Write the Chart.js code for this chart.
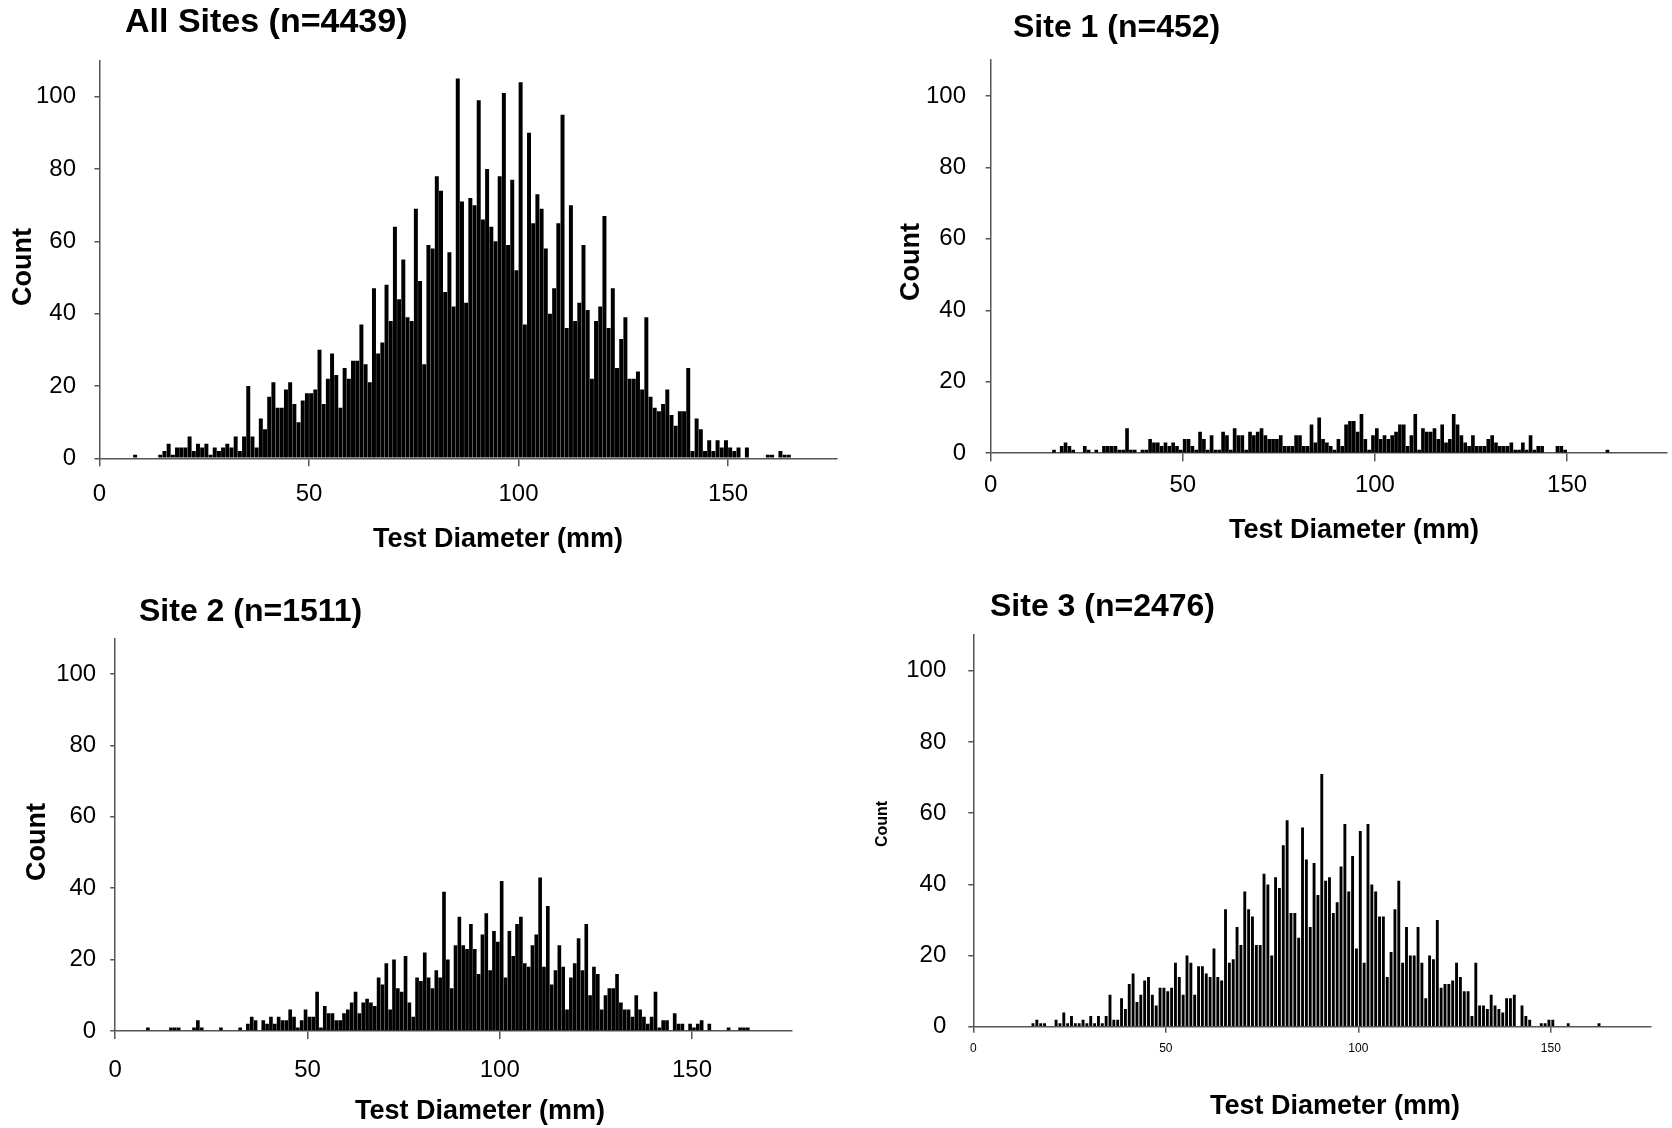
<!DOCTYPE html>
<html>
<head>
<meta charset="utf-8">
<script src="https://cdn.jsdelivr.net/npm/chart.js@4.4.1/dist/chart.umd.min.js"></script>
<style>
  body { margin: 0; background: #fff; }
  #wrap { position: relative; width: 1672px; height: 1128px; }
  canvas { position: absolute; }
</style>
</head>
<body>
<div id="wrap">
  <canvas id="c1" width="850" height="564" style="left:0;top:0"></canvas>
  <canvas id="c2" width="812" height="564" style="left:860px;top:0"></canvas>
  <canvas id="c3" width="836" height="564" style="left:0;top:564px"></canvas>
  <canvas id="c4" width="812" height="564" style="left:860px;top:564px"></canvas>
</div>
<script>
// 1 mm bins, index = lower edge of the bin (0..165)
const binCentres = Array.from({ length: 166 }, (_, i) => i + 0.5);

const allSites = [
  0, 0, 0, 0, 0, 0, 0, 0, 1, 0,
  0, 0, 0, 0, 1, 2, 4, 1, 3, 3,
  3, 6, 2, 4, 3, 4, 1, 3, 2, 3,
  4, 3, 6, 2, 6, 20, 6, 3, 11, 8,
  17, 21, 14, 14, 19, 21, 15, 10, 16, 18,
  18, 19, 30, 15, 22, 29, 23, 14, 25, 22,
  27, 27, 37, 26, 21, 47, 29, 32, 48, 38,
  64, 44, 55, 39, 38, 69, 49, 26, 59, 58,
  78, 74, 46, 57, 42, 105, 71, 43, 72, 70,
  99, 66, 80, 64, 60, 78, 101, 59, 77, 52,
  104, 37, 90, 65, 73, 69, 58, 40, 47, 65,
  95, 36, 70, 38, 43, 59, 41, 22, 38, 42,
  67, 36, 47, 25, 33, 39, 22, 22, 24, 19,
  39, 17, 14, 13, 15, 19, 12, 9, 13, 13,
  25, 2, 11, 8, 2, 5, 2, 5, 3, 5,
  3, 2, 3, 0, 3, 0, 0, 0, 0, 1,
  1, 0, 2, 1, 1, 0
];

const site1 = [
  0, 0, 0, 0, 0, 0, 0, 0, 0, 0,
  0, 0, 0, 0, 0, 0, 1, 0, 2, 3,
  2, 1, 0, 0, 2, 1, 0, 1, 0, 2,
  2, 2, 2, 1, 1, 7, 1, 1, 0, 1,
  1, 4, 3, 3, 2, 3, 2, 3, 2, 1,
  4, 4, 2, 1, 6, 4, 1, 5, 1, 1,
  6, 5, 1, 7, 5, 5, 1, 6, 5, 6,
  7, 5, 4, 4, 4, 5, 2, 2, 2, 5,
  5, 2, 2, 8, 3, 10, 4, 3, 2, 1,
  4, 2, 8, 9, 9, 6, 11, 4, 1, 5,
  7, 4, 5, 4, 5, 6, 8, 8, 2, 5,
  11, 1, 7, 6, 6, 7, 4, 8, 3, 4,
  11, 8, 5, 3, 2, 5, 2, 2, 2, 4,
  5, 3, 2, 2, 2, 3, 1, 1, 3, 1,
  5, 1, 2, 2, 0, 0, 0, 2, 2, 1,
  0, 0, 0, 0, 0, 0, 0, 0, 0, 0,
  1, 0, 0, 0, 0, 0
];

const site2 = [
  0, 0, 0, 0, 0, 0, 0, 0, 1, 0,
  0, 0, 0, 0, 1, 1, 1, 0, 0, 0,
  1, 3, 1, 0, 0, 0, 0, 1, 0, 0,
  0, 0, 1, 0, 2, 4, 3, 0, 3, 2,
  4, 2, 4, 3, 3, 6, 4, 1, 3, 6,
  4, 4, 11, 1, 7, 5, 5, 3, 3, 5,
  6, 8, 11, 5, 8, 9, 8, 7, 15, 13,
  19, 6, 20, 12, 11, 21, 8, 4, 15, 14,
  22, 15, 12, 17, 15, 39, 20, 12, 24, 32,
  24, 23, 30, 23, 16, 27, 33, 17, 28, 25,
  42, 15, 28, 21, 30, 32, 19, 18, 24, 27,
  43, 18, 35, 13, 17, 24, 18, 6, 15, 19,
  26, 17, 30, 10, 18, 16, 6, 10, 12, 12,
  16, 8, 6, 6, 4, 10, 6, 4, 2, 4,
  11, 1, 3, 3, 0, 5, 2, 2, 0, 2,
  1, 2, 3, 0, 2, 0, 0, 0, 0, 1,
  0, 0, 1, 1, 1, 0
];

const site3 = [
  0, 0, 0, 0, 0, 0, 0, 0, 0, 0,
  0, 0, 0, 0, 0, 1, 2, 1, 1, 0,
  0, 2, 1, 4, 1, 3, 1, 1, 2, 1,
  3, 1, 3, 1, 3, 9, 2, 2, 8, 5,
  12, 15, 7, 9, 13, 14, 9, 6, 11, 11,
  10, 11, 18, 14, 9, 20, 18, 9, 17, 17,
  15, 14, 22, 14, 13, 33, 18, 19, 28, 23,
  38, 33, 31, 23, 23, 43, 40, 20, 42, 39,
  51, 58, 32, 32, 25, 56, 47, 28, 46, 37,
  71, 41, 42, 32, 35, 45, 57, 38, 48, 22,
  55, 18, 57, 40, 38, 31, 31, 14, 21, 33,
  41, 18, 28, 20, 20, 28, 18, 8, 20, 19,
  30, 11, 12, 12, 13, 18, 14, 10, 10, 3,
  18, 6, 6, 5, 9, 6, 5, 4, 8, 8,
  9, 0, 6, 3, 2, 0, 0, 1, 1, 2,
  2, 0, 0, 0, 1, 0, 0, 0, 0, 0,
  0, 0, 1, 0, 0, 0
];

const xTickValues = [0, 50, 100, 150];
const yTickValues = [0, 20, 40, 60, 80, 100];

const FONT = '"Liberation Sans", Arial, Helvetica, sans-serif';

// titles are drawn by hand so they can sit where the original put them
const panelText = {
  id: 'panelText',
  afterDraw(chart, args, opts) {
    const ctx = chart.ctx;
    ctx.save();
    ctx.fillStyle = '#000';
    ctx.textBaseline = 'middle';

    ctx.textAlign = 'left';
    ctx.font = 'bold ' + opts.titleSize + 'px ' + FONT;
    ctx.fillText(opts.title, opts.titleX, opts.titleY);

    ctx.textAlign = 'center';
    ctx.font = 'bold 27px ' + FONT;
    ctx.fillText('Test Diameter (mm)', opts.xTitleX, opts.xTitleY);

    ctx.translate(opts.yTitleX, opts.yTitleY);
    ctx.rotate(-Math.PI / 2);
    ctx.font = 'bold ' + opts.yTitleSize + 'px ' + FONT;
    ctx.fillText('Count', 0, 0);
    ctx.restore();
  }
};

function histogram(id, counts, p) {
  const points = binCentres.map((x, i) => ({ x: x, y: counts[i] }));
  return new Chart(document.getElementById(id), {
    type: 'bar',
    data: {
      datasets: [{
        data: points,
        backgroundColor: '#000',
        borderWidth: 0,
        barPercentage: 1,
        categoryPercentage: p.barFill
      }]
    },
    options: {
      responsive: false,
      animation: false,
      layout: { padding: { top: p.top, right: p.right, bottom: 0, left: 0 } },
      plugins: {
        legend: { display: false },
        tooltip: { enabled: false },
        panelText: p.text
      },
      scales: {
        x: {
          type: 'linear',
          min: 0,
          max: 176,
          offset: false,
          afterBuildTicks: (axis) => {
            axis.ticks = xTickValues.map(v => ({ value: v }));
          },
          afterFit: (axis) => { axis.height = p.xHeight; },
          grid: { offset: false, drawOnChartArea: false, drawTicks: true, tickLength: p.xTickLen, color: '#555', lineWidth: 1.5 },
          border: { display: true, color: '#555', width: 1.5 },
          ticks: {
            maxRotation: 0,
            padding: p.xTickPad,
            color: '#000',
            font: { family: FONT, size: p.xTickSize }
          }
        },
        y: {
          min: 0,
          max: 110,
          afterBuildTicks: (axis) => {
            axis.ticks = yTickValues.map(v => ({ value: v }));
          },
          afterFit: (axis) => { axis.width = p.yWidth; },
          grid: { offset: false, drawOnChartArea: false, drawTicks: true, tickLength: 5, color: '#555', lineWidth: 1.5 },
          border: { display: true, color: '#555', width: 1.5 },
          ticks: {
            padding: p.yTickPad,
            color: '#000',
            font: { family: FONT, size: 24 }
          }
        }
      }
    },
    plugins: [panelText]
  });
}

histogram('c1', allSites, {
  top: 60.5, right: 13, yWidth: 99.5, xHeight: 105.7,
  yTickPad: 18.5, xTickLen: 8, xTickPad: 14, xTickSize: 24, barFill: 0.95,
  text: { title: 'All Sites (n=4439)', titleSize: 34, titleX: 125, titleY: 23,
          xTitleX: 498, xTitleY: 540, yTitleX: 24, yTitleY: 267, yTitleSize: 27 }
});

histogram('c2', site1, {
  top: 60.2, right: 5, yWidth: 130.6, xHeight: 110.8,
  yTickPad: 19.6, xTickLen: 8, xTickPad: 9.4, xTickSize: 24, barFill: 0.95,
  text: { title: 'Site 1 (n=452)', titleSize: 32, titleX: 153, titleY: 28,
          xTitleX: 494, xTitleY: 531, yTitleX: 52, yTitleY: 262, yTitleSize: 27 }
});

histogram('c3', site2, {
  top: 74.3, right: 44, yWidth: 115.2, xHeight: 97,
  yTickPad: 14, xTickLen: 8, xTickPad: 17, xTickSize: 24, barFill: 0.95,
  text: { title: 'Site 2 (n=1511)', titleSize: 32, titleX: 139, titleY: 48,
          xTitleX: 480, xTitleY: 548, yTitleX: 38, yTitleY: 278, yTitleSize: 27 }
});

histogram('c4', site3, {
  top: 71.2, right: 21, yWidth: 113.3, xHeight: 101.2,
  yTickPad: 22, xTickLen: 6, xTickPad: 9, xTickSize: 12, barFill: 0.75,
  text: { title: 'Site 3 (n=2476)', titleSize: 32, titleX: 130, titleY: 43,
          xTitleX: 475, xTitleY: 543, yTitleX: 23, yTitleY: 260, yTitleSize: 16 }
});
</script>
</body>
</html>
